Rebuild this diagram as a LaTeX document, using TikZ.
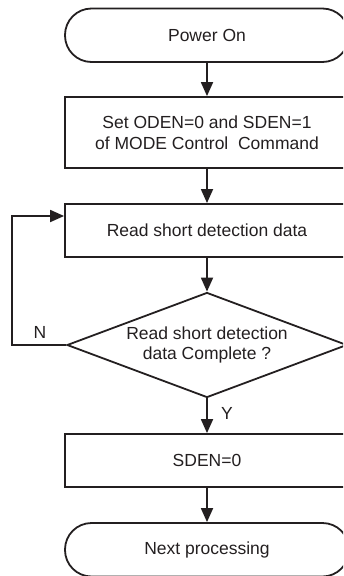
\documentclass[tikz,border=0pt]{standalone}
\usepackage{fontspec}
\setmainfont{Liberation Sans}
\usetikzlibrary{shapes.geometric,arrows.meta}
\definecolor{ink}{RGB}{35,31,32}
\begin{document}
\begin{tikzpicture}[x=1pt,y=-1pt,
  every node/.style={font=\fontsize{17.5}{20.5}\selectfont, text=ink},
  boxnode/.style={draw=ink, line width=1.8pt, minimum width=284pt, inner sep=0pt, align=center},
  term/.style={boxnode, rounded corners=26.5pt},
  dec/.style={draw=ink, line width=1.8pt, diamond, aspect=2.67, minimum width=280pt, minimum height=105pt, inner sep=0pt, align=center},
  arr/.style={draw=ink, line width=1.8pt, -{Triangle[length=14pt,width=12pt]}},
  lbl/.style={inner sep=0pt}]
\useasboundingbox (0,0) rectangle (343,576);
\clip (0,0) rectangle (343,576);
\node[term, minimum height=53.5pt] (t1) at (207,35.25) {Power On};
\node[boxnode, minimum height=71pt] (b2) at (207,132.5) {Set ODEN=0 and SDEN=1\\of MODE Control\ \ Command};
\node[boxnode, minimum height=52.7pt] (b3) at (207,230.3) {Read short detection data};
\node[dec] (d) at (207,345) {Read short detection\\data Complete ?};
\node[boxnode, minimum height=53pt] (b4) at (207,460.5) {SDEN=0};
\node[term, minimum height=53.5pt] (t2) at (207,549.75) {Next processing};
\coordinate (lp) at (12.3,0);
\coordinate (in3) at ([yshift=14.3pt]b3.west);
\draw[arr] (t1) -- (b2);
\draw[arr] (b2) -- (b3);
\draw[arr] (b3) -- (d);
\draw[arr] (d) -- (b4);
\draw[arr] (b4) -- (t2);
\draw[arr] (d.west) -- (d.west -| lp) |- (in3);
\node[lbl] (n) at (40,332) {N};
\node[lbl] (y) at (227,413) {Y};
\end{tikzpicture}
\end{document}
